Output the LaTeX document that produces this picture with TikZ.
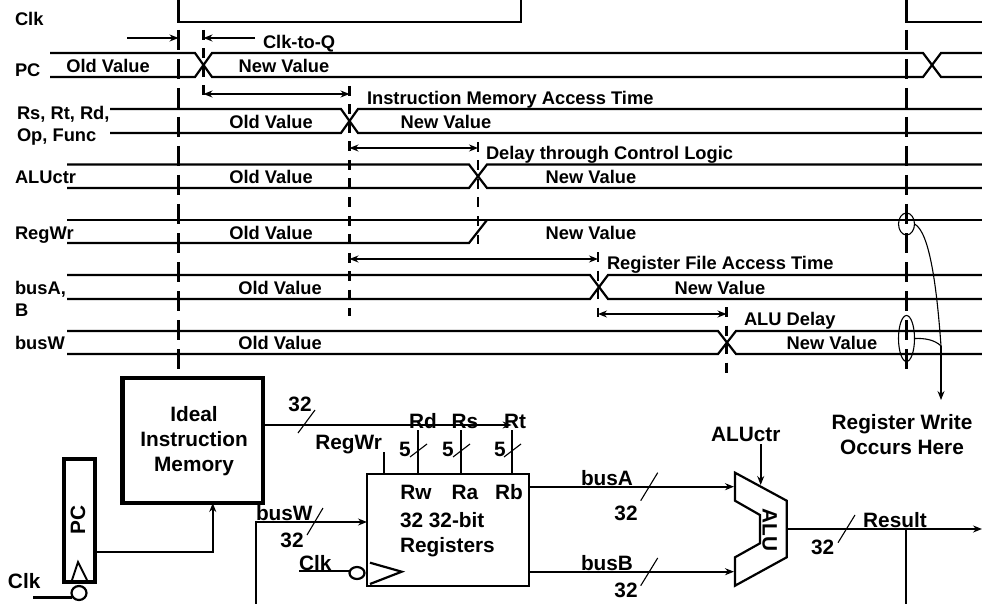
\documentclass[tikz,border=0pt]{standalone}
\usepackage{fontspec}
\setmainfont{Liberation Sans}
\usetikzlibrary{shapes.geometric, arrows.meta, positioning, calc}
\tikzset{
  txt/.style={font=\fontsize{18.3}{20}\selectfont\bfseries, inner sep=0pt, outer sep=0pt, text height=13pt, text depth=0pt},
  lbl/.style={txt, anchor=west},
  ctxt/.style={font=\fontsize{20.8}{23}\selectfont\bfseries, inner sep=0pt, outer sep=0pt, text height=15pt, text depth=0pt},
  clbl/.style={ctxt, anchor=west},
  wave/.style={line width=2.2pt, line join=miter},
  cycleline/.style={line width=2.2pt, dash pattern=on 20pt off 9pt},
  delayline/.style={line width=2.2pt, dash pattern=on 10pt off 8.5pt},
  spanline/.style={{Stealth[length=9pt, width=7pt, inset=3pt]}-{Stealth[length=9pt, width=7pt, inset=3pt]}, line width=1.7pt},
  arrowline/.style={-{Stealth[length=9pt, width=7pt, inset=3pt]}, line width=1.9pt},
  wire/.style={line width=2pt},
  slash/.style={line width=1.1pt},
  thickbox/.style={rectangle, draw=black, line width=4.5pt, inner sep=0pt, outer sep=0pt},
  wrmark/.style={ellipse, draw=black, line width=1.1pt, inner sep=0pt, outer sep=0pt, minimum width=16pt},
  bubble/.style={ellipse, draw=black, line width=2.2pt, inner sep=0pt, outer sep=0pt},
}
\begin{document}
\begin{tikzpicture}[x=1pt, y=-1pt]
\useasboundingbox (0,0) rectangle (982,604);

% clock
\draw[wave] (178.5,0) -- (178.5,22) -- (521,22) -- (521,0);
\draw[wave] (906.5,0) -- (906.5,22) -- (982,22);
\node[lbl] (clklbl) at (15,19) {Clk};

% vertical time lines
\draw[cycleline] (178.5,30) -- (178.5,371);
\draw[cycleline] (906.5,30) -- (906.5,371);
\draw[delayline] (203.5,30) -- (203.5,96);
\draw[delayline] (349.5,86) -- (349.5,316);
\draw[delayline] (478,142) -- (478,244);
\draw[delayline] (598,252) -- (598,317);
\draw[delayline] (726.5,307) -- (726.5,373);

% PC
\draw[wave] (50,53) -- (195,53) -- (212,77) -- (923,77) -- (941,53) -- (982,53);
\draw[wave] (50,77) -- (195,77) -- (212,53) -- (923,53) -- (941,77) -- (982,77);
\node[lbl] (pclbl) at (15,70) {PC};
\node[txt] (pcold) at (108,66.5) {Old Value};
\node[txt] (pcnew) at (284,66.5) {New Value};
\node[lbl] (clkq) at (263,42) {Clk-to-Q};
\coordinate (setupa) at (127,38);
\coordinate (setupb) at (178.5,38);
\coordinate (clkqa) at (255,38);
\coordinate (clkqb) at (203.5,38);
\draw[arrowline] (setupa) -- (setupb);
\draw[arrowline] (clkqa) -- (clkqb);

% Rs, Rt, Rd
\draw[wave] (110,109) -- (341,109) -- (358,133) -- (982,133);
\draw[wave] (110,133) -- (341,133) -- (358,109) -- (982,109);
\node[lbl] (rslbl) at (17,113) {Rs, Rt, Rd,};
\node[lbl] (oplbl) at (17,135) {Op, Func};
\node[txt] (rsold) at (271,122) {Old Value};
\node[txt] (rsnew) at (446,122) {New Value};
\node[lbl] (imtime) at (367,98) {Instruction Memory Access Time};
\draw[spanline] (203.5,94) -- (349.5,94);

% ALUctr
\draw[wave] (67,164.5) -- (469,164.5) -- (487,188) -- (982,188);
\draw[wave] (67,188) -- (469,188) -- (487,164.5) -- (982,164.5);
\node[lbl] (aluctrlbl) at (15,177) {ALUctr};
\node[txt] (aluctrold) at (271,177) {Old Value};
\node[txt] (aluctrnew) at (591,177) {New Value};
\node[lbl] (ctrltime) at (486,153) {Delay through Control Logic};
\draw[spanline] (349.5,148) -- (478,148);

% RegWr
\draw[wave] (67,220) -- (982,220);
\draw[wave] (67,243) -- (469,243) -- (487,220);
\node[lbl] (regwrlbl) at (15,233) {RegWr};
\node[txt] (regwrold) at (271,233) {Old Value};
\node[txt] (regwrnew) at (591,233) {New Value};

% busA, B
\draw[wave] (67,275) -- (590,275) -- (608,299) -- (982,299);
\draw[wave] (67,299) -- (590,299) -- (608,275) -- (982,275);
\node[lbl] (busalbl) at (15,288) {busA,};
\node[lbl] (blbl) at (15,310) {B};
\node[txt] (busaold) at (280,288) {Old Value};
\node[txt] (busanew) at (720,288) {New Value};
\node[lbl] (rftime) at (607,263) {Register File Access Time};
\draw[spanline] (349.5,259) -- (598,259);

% busW
\draw[wave] (67,331) -- (718,331) -- (736,354) -- (982,354);
\draw[wave] (67,354) -- (718,354) -- (736,331) -- (982,331);
\node[lbl] (buswlbl) at (15,343) {busW};
\node[txt] (buswold) at (280,343) {Old Value};
\node[txt] (buswnew) at (832,343) {New Value};
\node[lbl] (aludelay) at (744,319) {ALU Delay};
\draw[spanline] (598,314) -- (726.5,314);

% register write marks
\node[wrmark, minimum height=22pt] (wrreg) at (906.5,224) {};
\node[wrmark, minimum height=46pt] (wrbus) at (906.5,338.5) {};
\node[ctxt] (regwrite) at (902,421.5) {Register Write};
\node[ctxt] (regwritetwo) at (902,446.5) {Occurs Here};
\coordinate (wrjoin) at (941,346);
\coordinate (wrtip) at (941,400);
\draw[line width=1.1pt] (wrreg.east) .. controls (930,232) and (937,290) .. (wrjoin);
\draw[line width=1.1pt] (wrbus.east) .. controls (925,338) and (935,340) .. (wrjoin);
\draw[arrowline, line width=1.1pt] (wrjoin) -- (wrtip);

% instruction memory and PC
\node[thickbox, minimum width=140.5pt, minimum height=125pt] (imem) at (192.75,440.5) {};
\node[ctxt] (imema) at (194,414) {Ideal};
\node[ctxt] (imemb) at (194,439) {Instruction};
\node[ctxt] (imemc) at (194,464) {Memory};
\node[thickbox, minimum width=31pt, minimum height=123pt] (pcreg) at (79.5,520.5) {};
\node[ctxt, rotate=90] (pctext) at (77.5,520) {PC};
\draw[line width=1.9pt] (72,580) -- (78,562) -- (87,580);
\node[bubble, minimum width=15pt, minimum height=14pt] (pcbub) at (79,593) {};
\node[clbl] (pcclk) at (8,581) {Clk};
\coordinate (pcclkin) at (33,597.5);
\draw[wave] (pcclkin) -- (pcbub.west |- pcclkin);
\draw[arrowline] ([yshift=-31.5pt]pcreg.east) -| ([xshift=20pt]imem.south);

% instruction bus
\coordinate (rttip) at (511.6,425);
\draw[arrowline] (imem.east |- rttip) -- (rttip);
\draw[slash] (298,433) -- (315,410);
\node[ctxt] (imembits) at (300,404) {32};

% register file
\node[rectangle, draw=black, line width=2.2pt, minimum width=162pt, minimum height=112pt, inner sep=0pt, outer sep=0pt] (regs) at (448,530) {};
\node[ctxt] (rwpin) at (416,492) {Rw};
\node[ctxt] (rapin) at (465,492) {Ra};
\node[ctxt] (rbpin) at (509,492) {Rb};
\node[clbl] (regsa) at (400,520) {32 32-bit};
\node[clbl] (regsb) at (400,545) {Registers};
\draw[line width=2.2pt] (370,562.7) -- (401.7,571.7) -- (370,584);

\coordinate (regwrin) at (384,452);
\coordinate (rdin) at (418,430);
\coordinate (rsin) at (461,430);
\coordinate (rtin) at (512,430);
\draw[wire] (regwrin) -- (regwrin |- regs.north);
\draw[wire] (rdin) -- (rdin |- regs.north);
\draw[wire] (rsin) -- (rsin |- regs.north);
\draw[wire] (rtin) -- (rtin |- regs.north);
\node[ctxt, anchor=east] (regwrtext) at (382,442) {RegWr};
\node[ctxt] (rdtext) at (423,421) {Rd};
\node[ctxt] (rstext) at (465,421) {Rs};
\node[ctxt] (rttext) at (515,421) {Rt};
\node[ctxt] (rdbits) at (405,449) {5};
\node[ctxt] (rsbits) at (448,449) {5};
\node[ctxt] (rtbits) at (500,449) {5};
\draw[slash] (410,457) -- (427,444);
\draw[slash] (453,457) -- (470,444);
\draw[slash] (504,457) -- (521,444);

% busW and Clk into register file
\coordinate (buswfeed) at (256,604);
\draw[arrowline] (buswfeed) |- ([yshift=8pt]regs.west);
\draw[slash] (307,535) -- (323,508);
\node[clbl] (buswtext) at (256,513) {busW};
\node[ctxt] (buswbits) at (292,540) {32};
\node[bubble, minimum width=15pt, minimum height=12pt] (regbub) at (357,573) {};
\node[clbl] (regclk) at (299,563) {Clk};
\coordinate (regclkin) at (299,571);
\draw[wave] (regclkin) -- (regbub.west |- regclkin);

% ALU
\draw[line width=2.2pt, line join=miter] (735,472.7) -- (786.7,500.7) -- (786.7,557.3) -- (735,585.7) -- (735,557.3) -- (760,543.3) -- (760,515) -- (735,500.7) -- cycle;
\node[ctxt, rotate=-90] (alutext) at (770,530) {ALU};
\coordinate (alua) at (734,486.7);
\coordinate (alub) at (734,571.7);
\coordinate (aluout) at (787,529);
\coordinate (aluctrl) at (760.7,444);
\coordinate (aluctrltip) at (760.7,485);
\draw[arrowline] (regs.east |- alua) -- (alua);
\draw[arrowline] (regs.east |- alub) -- (alub);
\draw[arrowline] (aluctrl) -- (aluctrltip);
\node[ctxt] (aluctrtext) at (745.7,434) {ALUctr};
\node[ctxt] (busatext) at (607,478) {busA};
\node[ctxt] (busbtext) at (607,563) {busB};
\node[ctxt] (busabits) at (626,513) {32};
\node[ctxt] (busbbits) at (626,590) {32};
\draw[slash] (640.7,500.7) -- (657.7,472.7);
\draw[slash] (640.7,585.7) -- (657.7,558);

% result
\coordinate (resultend) at (982,529);
\coordinate (resultback) at (906,604);
\draw[arrowline] (aluout) -- (resultend);
\draw[wire] (906,529) -- (resultback);
\draw[slash] (838,542.7) -- (855,515);
\node[ctxt] (resulttext) at (895,520) {Result};
\node[ctxt] (resultbits) at (822.7,546.7) {32};
\end{tikzpicture}
\end{document}
